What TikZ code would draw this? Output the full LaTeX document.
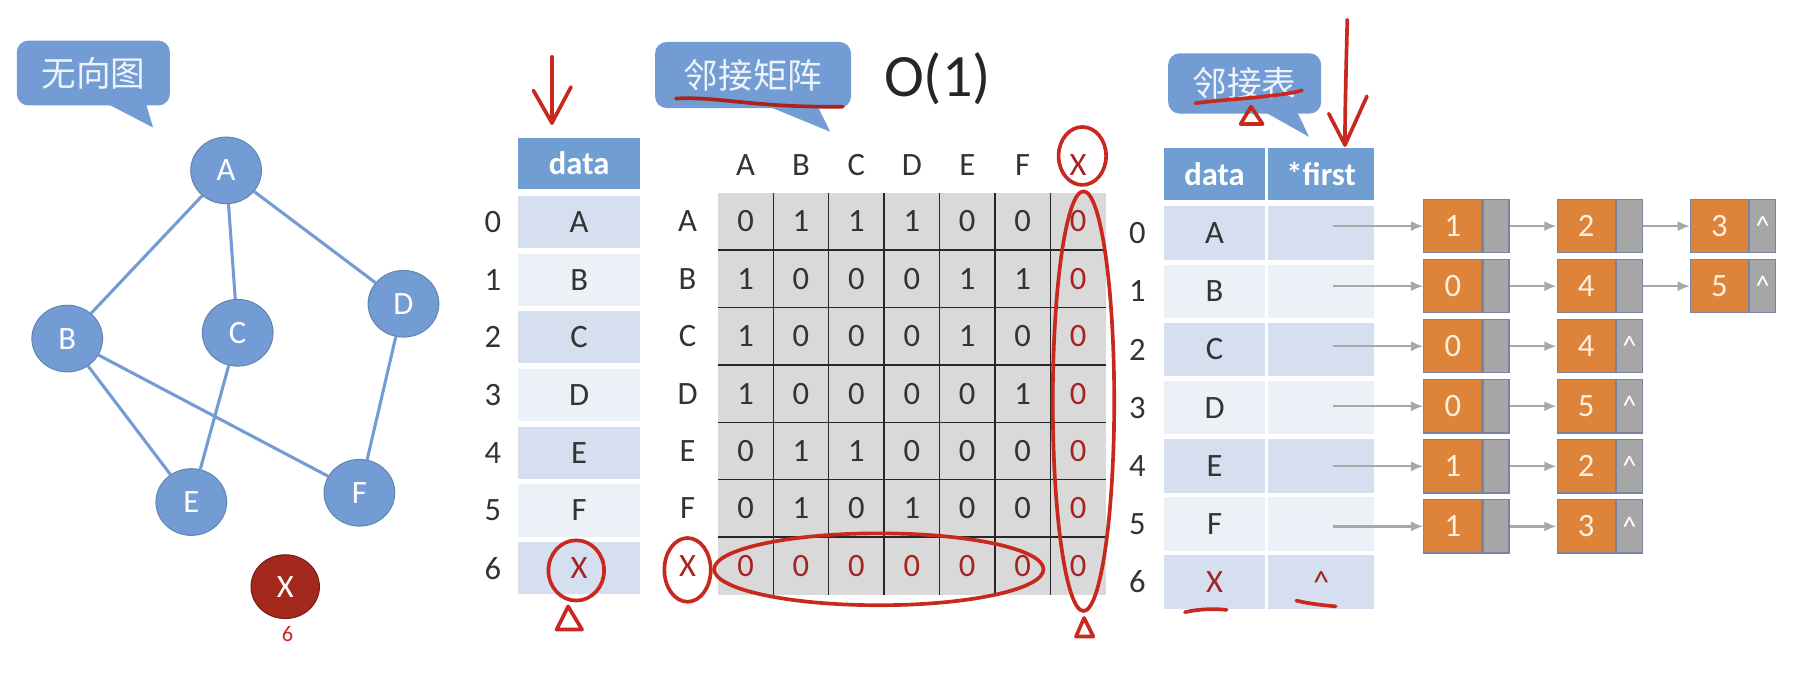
\documentclass[tikz,border=0pt]{standalone}
\usepackage{fontspec}
\setmainfont{Carlito}
\newfontfamily\cjk{Noto Sans CJK SC}
\usetikzlibrary{arrows.meta,calc,shapes.geometric}
\definecolor{nodeblue}{RGB}{114,156,211}
\definecolor{headblue}{RGB}{112,157,210}
\definecolor{rowdark}{RGB}{214,223,239}
\definecolor{rowlight}{RGB}{236,240,247}
\definecolor{cellgray}{RGB}{217,217,217}
\definecolor{penred}{RGB}{200,40,30}
\definecolor{zerored}{RGB}{165,35,35}
\definecolor{xred}{RGB}{165,40,28}
\definecolor{listorange}{RGB}{222,132,58}
\definecolor{listgray}{RGB}{166,166,166}
\definecolor{listedge}{RGB}{120,132,160}
\definecolor{linkgray}{RGB}{168,168,168}

\begin{document}
\begin{tikzpicture}[x=0.02cm, y=-0.02cm, >=Latex,
  txt/.style={font=\fontsize{16}{16}\selectfont, text=black!80, inner sep=0pt},
  vert/.style={ellipse, draw=nodeblue!85!black, line width=0.5pt, fill=nodeblue, minimum width=1.22cm, minimum height=1.15cm, inner sep=0pt, text=white, font=\fontsize{16}{16}\selectfont},
  edge/.style={draw=nodeblue, line width=1.5pt},
  bubble/.style={fill=nodeblue, rounded corners=0.2cm, inner sep=0pt, text=white!88!nodeblue, font=\cjk\fontsize{17}{17}\selectfont},
  pen/.style={draw=penred, line width=1.8pt, line cap=round, line join=round},
  gridline/.style={draw=black!85, line width=0.7pt},
  headcell/.style={fill=headblue, minimum height=0.89cm, inner sep=0pt, text=white, font=\bfseries\fontsize{16}{16}\selectfont},
  rowcell/.style={minimum height=0.9cm, inner sep=0pt, font=\fontsize{16}{16}\selectfont, text=black!80},
  vbox/.style={draw=listedge, line width=0.6pt, fill=listorange, minimum width=1cm, minimum height=0.92cm, inner sep=0pt, text=orange!12!white, font=\fontsize{16}{16}\selectfont},
  pbox/.style={draw=listedge, line width=0.6pt, fill=listgray, minimum width=0.45cm, minimum height=0.92cm, inner sep=0pt, anchor=west},
  caret/.style={text=white, font=\fontsize{14}{14}\selectfont, inner sep=0pt},
  link/.style={draw=linkgray, line width=1.1pt, -{Latex[length=6pt,width=5pt]}}]
\fill[white] (0,0) rectangle (1568,597);
\useasboundingbox (0,0) rectangle (1568,597);

\node[bubble, minimum width=2.64cm, minimum height=1.12cm] (ugbub) at (80.5,63) {无向图};
\coordinate (ugtip) at (132,110);
\fill[nodeblue] ($(ugbub.south west)+(80,-1)$) -- (ugtip) -- ($(ugbub.south west)+(112,-1)$) -- cycle;
\node[vert] (A) at (195,147) {A};
\node[vert] (B) at (58,292) {B};
\node[vert] (C) at (205,287) {C};
\node[vert] (D) at (348,262) {D};
\node[vert] (E) at (165,433) {E};
\node[vert] (F) at (310,425) {F};
\draw[edge] (A) -- (B) (A) -- (C) (A) -- (D) (B) -- (E) (B) -- (F) (C) -- (E) (D) -- (F);
\node[vert, fill=xred, draw=xred!70!black, minimum width=1.18cm, minimum height=1.1cm] (X) at (246,506) {X};
\node[text=penred, font=\fontsize{11}{11}\selectfont, inner sep=0pt] (xnum) at (248,547) {6};

\node[headcell, minimum width=2.1cm] (dh) at (499.5,141) {data};
\foreach \v [count=\i from 0] in {A,B,C,D,E,F} {
  \ifodd\i\def\rc{rowlight}\else\def\rc{rowdark}\fi
  \node[rowcell, fill=\rc, minimum width=2.1cm] (d-\i) at (499.5,191.5+49.75*\i) {\v};
  \node[txt] (di-\i) at (425,191.5+49.75*\i) {\i};
}
\node[rowcell, fill=rowdark, minimum width=2.1cm, text=zerored] (d-6) at (499.5,490) {X};
\node[txt] (di-6) at (425,490) {6};
\draw[pen] (476,49) -- (476,106);
\draw[pen] (460,78) -- (476,106) -- (492.5,75);
\draw[pen] (497,492) ellipse [x radius=24, y radius=26];
\draw[pen] (490,523) -- (480,543) -- (502,543) -- cycle;

\node[bubble, minimum width=3.38cm, minimum height=1.14cm] (mbub) at (649.5,64.7) {邻接矩阵};
\coordinate (mtip) at (716,113.6);
\fill[nodeblue] ($(mbub.south west)+(100,-1)$) -- (mtip) -- ($(mbub.south west)+(141,-1)$) -- cycle;
\draw[pen, draw=penred!85!black] (583,85) .. controls (620,83) and (650,93) .. (727,92);
\node[font=\fontsize{29.5}{30}\selectfont, text=black!85, inner sep=0pt] (o1) at (808.5,67.5) {O(1)};
\fill[cellgray] (619.1,166.25) rectangle (953.7,512.75);
\foreach \k in {1,...,6} {
  \draw[gridline] (619.1+47.8*\k,166.25) -- (619.1+47.8*\k,512.75);
  \draw[gridline] (619.1,166.25+49.5*\k) -- (953.7,166.25+49.5*\k);
}
\foreach \c [count=\j from 0] in {A,B,C,D,E,F} {
  \node[txt] (ch-\j) at (643+47.8*\j,142) {\c};
  \node[txt] (rl-\j) at (593,191+49.5*\j) {\c};
}
\node[txt, text=zerored] (ch-6) at (929.8,142) {X};
\node[txt, text=zerored] (rl-6) at (593,488) {X};
\foreach \r [count=\i from 0] in {{0,1,1,1,0,0},{1,0,0,0,1,1},{1,0,0,0,1,0},{1,0,0,0,0,1},{0,1,1,0,0,0},{0,1,0,1,0,0}} {
  \foreach \v [count=\j from 0] in \r
    \node[txt] (m-\i-\j) at (643+47.8*\j,191+49.5*\i) {\v};
  \node[txt, text=zerored] (m-\i-6) at (929.8,191+49.5*\i) {0};
}
\foreach \j in {0,...,6}
  \node[txt, text=zerored] (m-6-\j) at (643+47.8*\j,488) {0};
\draw[pen] (933.5,134.5) ellipse [x radius=20.5, y radius=25];
\draw[pen] (934.5,346) ellipse [x radius=26.5, y radius=181];
\draw[pen] (758,491) ellipse [x radius=142, y radius=31];
\draw[pen] (593,491.5) ellipse [x radius=20, y radius=27.5];
\draw[pen] (935,533) -- (928,549) -- (943,549) -- cycle;

\node[bubble, minimum width=2.64cm, minimum height=1.04cm] (lbub) at (1073.5,72) {邻接表};
\coordinate (ltip) at (1129,118);
\fill[nodeblue] ($(lbub.south west)+(85,-1)$) -- (ltip) -- ($(lbub.south west)+(112,-1)$) -- cycle;
\draw[pen] (1031,89) .. controls (1062,85) and (1100,84) .. (1123,78);
\draw[pen] (1079,92) -- (1070,107) -- (1089,107) -- cycle;
\draw[pen] (1162,17) .. controls (1161,60) and (1160,95) .. (1160,125);
\draw[pen] (1146,98) -- (1160,125) -- (1179,83);
\node[headcell, minimum width=1.74cm] (rh-1) at (1047.5,150) {data};
\node[headcell, minimum width=1.82cm] (rh-2) at (1139.5,150) {*first};
\foreach \v [count=\i from 0] in {A,B,C,D,E,F} {
  \ifodd\i\def\rc{rowlight}\else\def\rc{rowdark}\fi
  \node[rowcell, fill=\rc, minimum width=1.74cm, minimum height=0.92cm] (r-\i-1) at (1047.5,201+50.2*\i) {\v};
  \node[rowcell, fill=\rc, minimum width=1.82cm, minimum height=0.92cm] (r-\i-2) at (1139.5,201+50.2*\i) {};
  \node[txt] (ri-\i) at (981,201+50.2*\i) {\i};
}
\node[rowcell, fill=rowdark, minimum width=1.74cm, minimum height=0.92cm, text=zerored] (r-6-1) at (1047.5,502) {X};
\node[rowcell, fill=rowdark, minimum width=1.82cm, minimum height=0.92cm, text=zerored] (r-6-2) at (1139.5,502) {\textasciicircum};
\node[txt] (ri-6) at (981,502) {6};
\draw[pen] (1022,528) .. controls (1035,525) and (1048,525) .. (1058,526);
\draw[pen] (1118,518) .. controls (1130,521) and (1142,522) .. (1152,523);
\foreach \lst [count=\i from 0] in {{1,2,3},{0,4,5},{0,4},{0,5},{1,2},{1,3}} {
  \coordinate (s-\i) at (1150,195+51.8*\i);
  \foreach \v [count=\k] in \lst {
    \node[vbox] (v-\i-\k) at (1138+115*\k,195+51.8*\i) {\v};
    \node[pbox] (p-\i-\k) at (v-\i-\k.east) {};
    \ifnum\k=1
      \draw[link] (s-\i) -- (v-\i-1);
    \else
      \pgfmathtruncatemacro\kp{\k-1}
      \draw[link] (p-\i-\kp) -- (v-\i-\k);
    \fi
  }
}
\foreach \n in {0-3,1-3,2-2,3-2,4-2,5-2}
  \node[caret] (c-\n) at (p-\n) {\textasciicircum};
\end{tikzpicture}
\end{document}
